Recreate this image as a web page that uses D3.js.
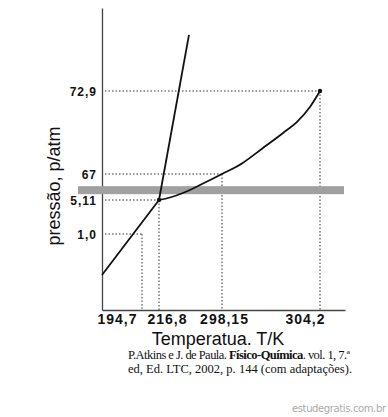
<!DOCTYPE html>
<html>
<head>
<meta charset="utf-8">
<script src="https://cdn.jsdelivr.net/npm/d3@7"></script>
<style>
  body { margin: 0; background: #fff; }
  svg { display: block; }
</style>
</head>
<body>
<svg id="chart" width="388" height="417"></svg>
<script>
// tick values and labels
const tempTicks = [194.7, 216.8, 298.15, 304.2];
const tempLabels = ["194,7", "216,8", "298,15", "304,2"];
const pressTicks = [1.0, 5.11, 67, 72.9];
const pressLabels = ["1,0", "5,11", "67", "72,9"];

// phase boundaries [T, p]
const sublimation = [[190, 0.46], [192.23, 0.79], [216.8, 5.11]];
const fusion = [[216.8, 5.11], [255.5, 77.7]];
const vaporization = [[216.8, 5.11], [231.0, 11.06], [247.8, 21.77], [269.7, 40.8], [298.15, 67],
  [299.38, 67.75], [300.68, 68.85], [301.92, 69.92], [302.78, 70.7], [303.58, 71.76], [304.2, 72.9]];
const triplePoint = [216.8, 5.11];
const criticalPoint = [304.2, 72.9];
const bandPressure = 28.5;

const svg = d3.select("#chart");

// schematic (non-uniform) axes
const x = d3.scaleLinear()
  .domain([190].concat(tempTicks, [306]))
  .range([102, 142, 159, 222, 320, 345]);
const y = d3.scaleLinear()
  .domain([0].concat(pressTicks, [80]))
  .range([310, 234, 200, 174, 91, 8]);

// dotted guide lines
const guides = svg.append("g")
  .attr("stroke", "#333")
  .attr("stroke-width", 1)
  .attr("stroke-dasharray", "1.5,2");
tempTicks.forEach(function(t, i) {
  const p = pressTicks[i];
  guides.append("line")
    .attr("x1", x.range()[0] + 3).attr("x2", x(t))
    .attr("y1", y(p)).attr("y2", y(p));
  guides.append("line")
    .attr("x1", x(t)).attr("x2", x(t))
    .attr("y1", y(p)).attr("y2", y.range()[0]);
});

// axes
const xAxis = svg.append("g")
  .attr("transform", "translate(0," + y.range()[0] + ")")
  .call(d3.axisBottom(x).tickValues(tempTicks).tickSize(0).tickSizeOuter(0)
    .tickFormat(function(d, i) { return tempLabels[i]; }));
const yAxis = svg.append("g")
  .attr("transform", "translate(" + x.range()[0] + ",0)")
  .call(d3.axisLeft(y).tickValues(pressTicks).tickSize(0).tickSizeOuter(0)
    .tickFormat(function(d, i) { return pressLabels[i]; }));

svg.selectAll(".domain").attr("stroke", "#444").attr("stroke-width", 1.3);

const labelShift = [-25, 8, 2, -15];
xAxis.selectAll(".tick text")
  .attr("y", 0).attr("dy", 0)
  .attr("transform", function(d, i) { return "translate(" + labelShift[i] + ",13.5)"; })
  .attr("font-family", "Liberation Sans, Arial, sans-serif")
  .attr("font-size", 14).attr("font-weight", "bold")
  .attr("letter-spacing", 1)
  .attr("fill", "#111");
yAxis.selectAll(".tick text")
  .attr("x", -5).attr("dy", "0.36em")
  .attr("font-family", "Liberation Sans, Arial, sans-serif")
  .attr("font-size", 12).attr("font-weight", "bold")
  .attr("letter-spacing", 1)
  .attr("fill", "#111");

// gray band
svg.append("rect")
  .attr("x", 78).attr("width", 266)
  .attr("y", y(bandPressure) - 4).attr("height", 8)
  .attr("fill", "#a0a0a0");

// curves
const line = d3.line()
  .x(function(d) { return x(d[0]); })
  .y(function(d) { return y(d[1]); })
  .curve(d3.curveMonotoneX);

[sublimation, fusion, vaporization].forEach(function(c) {
  svg.append("path")
    .attr("d", line(c))
    .attr("fill", "none")
    .attr("stroke", "#111")
    .attr("stroke-width", 1.8);
});

[triplePoint, criticalPoint].forEach(function(pt) {
  svg.append("circle")
    .attr("cx", x(pt[0])).attr("cy", y(pt[1]))
    .attr("r", 2.2).attr("fill", "#111");
});

// axis titles
svg.append("text")
  .attr("x", 218).attr("y", 345)
  .attr("text-anchor", "middle")
  .attr("font-family", "Liberation Sans, Arial, sans-serif")
  .attr("font-size", 18).attr("fill", "#111")
  .text("Temperatua. T/K");
svg.append("text")
  .attr("transform", "translate(60,186) rotate(-90)")
  .attr("text-anchor", "middle")
  .attr("font-family", "Liberation Sans, Arial, sans-serif")
  .attr("font-size", 18).attr("fill", "#111")
  .text("pressão, p/atm");

// citation
const cite1 = svg.append("text")
  .attr("x", 128).attr("y", 359)
  .attr("textLength", 222).attr("lengthAdjust", "spacing")
  .attr("font-family", "Liberation Serif, Times New Roman, serif")
  .attr("font-size", 12.5).attr("fill", "#111");
cite1.append("tspan").text("P.Atkins e J. de Paula. ");
cite1.append("tspan").attr("font-weight", "bold").text("Físico-Química");
cite1.append("tspan").text(". vol. 1, 7.ª");
svg.append("text")
  .attr("x", 128).attr("y", 373)
  .attr("textLength", 224).attr("lengthAdjust", "spacing")
  .attr("font-family", "Liberation Serif, Times New Roman, serif")
  .attr("font-size", 12.5).attr("fill", "#111")
  .text("ed, Ed. LTC, 2002, p. 144 (com adaptações).");

// watermark
svg.append("text")
  .attr("x", 292).attr("y", 412)
  .attr("textLength", 94).attr("lengthAdjust", "spacing")
  .attr("font-family", "DejaVu Sans, sans-serif")
  .attr("font-size", 10).attr("fill", "#aaa")
  .text("estudegratis.com.br");
</script>
</body>
</html>
